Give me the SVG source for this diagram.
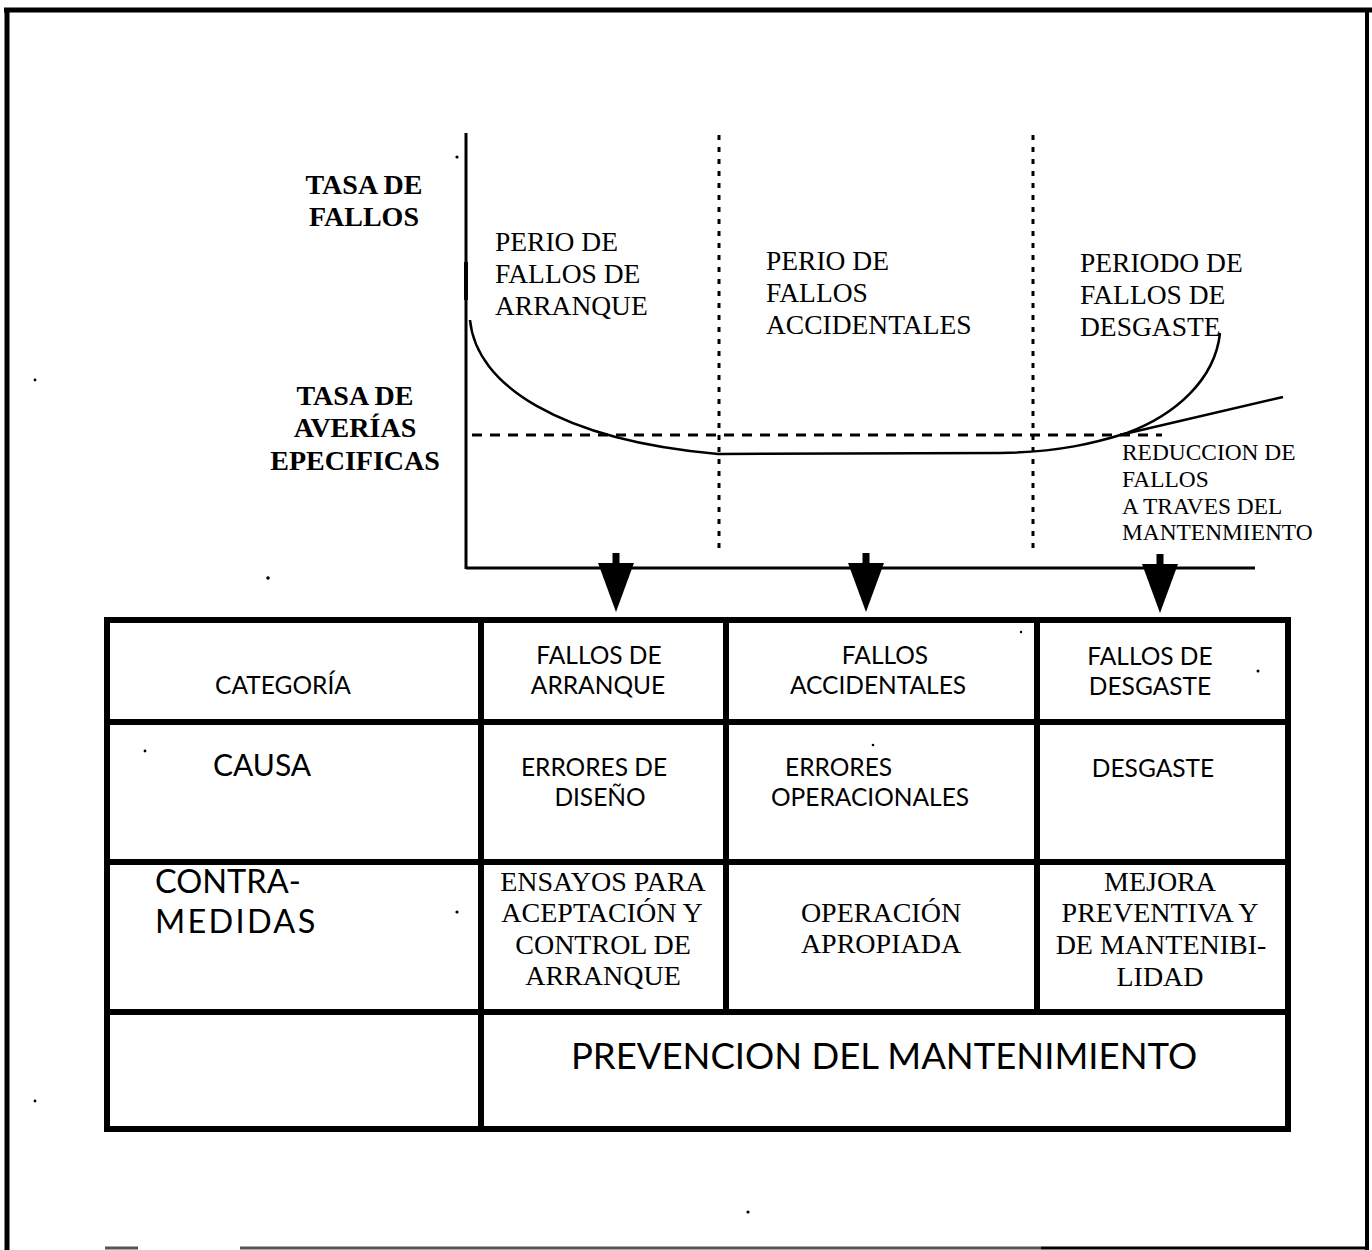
<svg xmlns="http://www.w3.org/2000/svg" width="1372" height="1250" viewBox="0 0 1372 1250">
  <style>
    .serif { font-family: "Liberation Serif", "Times New Roman", serif; fill: #000; }
    .bold { font-weight: bold; }
    .sans { font-family: Lato, "Open Sans", sans-serif; fill: #000; }
    .cell { font-size: 24.5px; }
    .axis { stroke: #000; stroke-width: 3; fill: none; }
    .curve { stroke: #000; stroke-width: 2.5; fill: none; }
    .dotted { stroke: #000; stroke-width: 3; stroke-dasharray: 5 7; fill: none; }
    .dashed { stroke: #000; stroke-width: 3; stroke-dasharray: 10 8; fill: none; }
    .grid { stroke: #000; stroke-width: 6; fill: none; stroke-linecap: square; }
    .speck { fill: #000; }
  </style>
  <defs>
    <!-- downward block arrow: stem plus triangular head, tip at origin -->
    <g id="down-arrow">
      <rect x="-3.5" y="-59" width="7" height="12"/>
      <polygon points="-18,-49 18,-49 0,0"/>
    </g>
  </defs>

  <rect width="1372" height="1250" fill="#fff"/>

  <!-- page frame -->
  <g id="frame">
    <line x1="4" y1="10" x2="1372" y2="10" stroke="#000" stroke-width="5"/>
    <line x1="7" y1="8" x2="7" y2="1250" stroke="#000" stroke-width="5"/>
    <line x1="1367" y1="10" x2="1367" y2="1250" stroke="#000" stroke-width="4"/>
    <line x1="105" y1="1248" x2="138" y2="1248" stroke="#555" stroke-width="3"/>
    <line x1="240" y1="1248" x2="1041" y2="1248" stroke="#555" stroke-width="3"/>
    <line x1="1041" y1="1248" x2="1366" y2="1248" stroke="#000" stroke-width="3"/>
  </g>

  <!-- bathtub chart -->
  <g id="chart">
    <line class="axis" x1="466" y1="133" x2="466" y2="569"/>
    <line x1="466" y1="262" x2="466" y2="300" stroke="#000" stroke-width="4"/>
    <line class="axis" x1="466" y1="568" x2="1255" y2="568"/>
    <line class="dotted" x1="719" y1="135" x2="719" y2="552"/>
    <line class="dotted" x1="1033" y1="135" x2="1033" y2="552"/>
    <line class="dashed" x1="472" y1="435" x2="1162" y2="435"/>
    <path class="curve" d="M470,320 C476,385 560,440 718,454 L1000,453 C1060,452 1095,443 1127,433 C1175,415 1215,380 1220,333"/>
    <line class="curve" x1="1120" y1="435" x2="1283" y2="397"/>
  </g>

  <!-- axis labels -->
  <g id="label-tasa-fallos">
    <text class="serif bold" font-size="28" text-anchor="middle" x="364" y="194">TASA DE</text>
    <text class="serif bold" font-size="28" text-anchor="middle" x="364" y="226">FALLOS</text>
  </g>
  <g id="label-tasa-averias">
    <text class="serif bold" font-size="28" text-anchor="middle" x="355" y="405">TASA DE</text>
    <text class="serif bold" font-size="28" text-anchor="middle" x="355" y="437">AVERÍAS</text>
    <text class="serif bold" font-size="28" text-anchor="middle" x="355" y="470">EPECIFICAS</text>
  </g>

  <!-- period labels -->
  <g id="period-arranque">
    <text class="serif" font-size="27.5" x="495" y="251">PERIO DE</text>
    <text class="serif" font-size="27.5" x="495" y="283">FALLOS DE</text>
    <text class="serif" font-size="27.5" x="495" y="315">ARRANQUE</text>
  </g>
  <g id="period-accidentales">
    <text class="serif" font-size="27.5" x="766" y="270">PERIO DE</text>
    <text class="serif" font-size="27.5" x="766" y="302">FALLOS</text>
    <text class="serif" font-size="27.5" x="766" y="334">ACCIDENTALES</text>
  </g>
  <g id="period-desgaste">
    <text class="serif" font-size="27.5" x="1080" y="272">PERIODO DE</text>
    <text class="serif" font-size="27.5" x="1080" y="304">FALLOS DE</text>
    <text class="serif" font-size="27.5" x="1080" y="336">DESGASTE</text>
  </g>
  <g id="label-reduccion">
    <text class="serif" font-size="23.4" x="1122" y="460">REDUCCION DE</text>
    <text class="serif" font-size="23.4" x="1122" y="487">FALLOS</text>
    <text class="serif" font-size="23.4" x="1122" y="514">A TRAVES DEL</text>
    <text class="serif" font-size="23.4" x="1122" y="540">MANTENMIENTO</text>
  </g>

  <!-- arrows from chart periods to table columns -->
  <g id="connectors">
    <use href="#down-arrow" x="616" y="612"/>
    <use href="#down-arrow" x="866" y="612"/>
    <use href="#down-arrow" x="1160" y="613"/>
  </g>

  <!-- table grid -->
  <g id="table">
    <rect class="grid" x="107" y="620" width="1181" height="509"/>
    <line class="grid" x1="107" y1="722" x2="1288" y2="722"/>
    <line class="grid" x1="107" y1="862" x2="1288" y2="862"/>
    <line class="grid" x1="107" y1="1012" x2="1288" y2="1012"/>
    <line class="grid" x1="481" y1="620" x2="481" y2="1129"/>
    <line class="grid" x1="726" y1="620" x2="726" y2="1012"/>
    <line class="grid" x1="1037" y1="620" x2="1037" y2="1012"/>
  </g>

  <!-- row headers -->
  <g id="cell-categoria">
    <text class="sans cell" text-anchor="middle" x="283" y="694">CATEGORÍA</text>
  </g>
  <g id="cell-causa">
    <text class="sans" font-size="30" x="213" y="776">CAUSA</text>
  </g>
  <g id="cell-contramedidas">
    <text class="sans" font-size="32.5" x="155" y="893">CONTRA-</text>
    <text class="sans" font-size="32.5" letter-spacing="2.3" x="155" y="933">MEDIDAS</text>
  </g>

  <!-- category row -->
  <g id="cell-fallos-arranque">
    <text class="sans cell" text-anchor="middle" x="599" y="664">FALLOS DE</text>
    <text class="sans cell" text-anchor="middle" x="598" y="694">ARRANQUE</text>
  </g>
  <g id="cell-fallos-accidentales">
    <text class="sans cell" text-anchor="middle" x="885" y="664">FALLOS</text>
    <text class="sans cell" text-anchor="middle" x="878" y="694">ACCIDENTALES</text>
  </g>
  <g id="cell-fallos-desgaste">
    <text class="sans cell" text-anchor="middle" x="1150" y="665">FALLOS DE</text>
    <text class="sans cell" text-anchor="middle" x="1150" y="695">DESGASTE</text>
  </g>

  <!-- cause row -->
  <g id="cell-errores-diseno">
    <text class="sans cell" text-anchor="middle" x="594" y="776">ERRORES DE</text>
    <text class="sans cell" text-anchor="middle" x="600" y="806">DISEÑO</text>
  </g>
  <g id="cell-errores-operacionales">
    <text class="sans cell" x="785" y="776">ERRORES</text>
    <text class="sans cell" x="771" y="806">OPERACIONALES</text>
  </g>
  <g id="cell-desgaste">
    <text class="sans cell" text-anchor="middle" x="1153" y="777">DESGASTE</text>
  </g>

  <!-- countermeasure row -->
  <g id="cell-ensayos">
    <text class="serif" font-size="28" text-anchor="middle" x="603" y="891">ENSAYOS PARA</text>
    <text class="serif" font-size="28" text-anchor="middle" x="602" y="922">ACEPTACIÓN Y</text>
    <text class="serif" font-size="28" text-anchor="middle" x="603" y="954">CONTROL DE</text>
    <text class="serif" font-size="28" text-anchor="middle" x="603" y="985">ARRANQUE</text>
  </g>
  <g id="cell-operacion">
    <text class="serif" font-size="28" text-anchor="middle" x="881" y="922">OPERACIÓN</text>
    <text class="serif" font-size="28" text-anchor="middle" x="881" y="953">APROPIADA</text>
  </g>
  <g id="cell-mejora">
    <text class="serif" font-size="28" text-anchor="middle" x="1160" y="891">MEJORA</text>
    <text class="serif" font-size="28" text-anchor="middle" x="1160" y="922">PREVENTIVA Y</text>
    <text class="serif" font-size="28" text-anchor="middle" x="1161" y="954">DE MANTENIBI-</text>
    <text class="serif" font-size="28" text-anchor="middle" x="1160" y="986">LIDAD</text>
  </g>

  <!-- bottom row -->
  <g id="cell-prevencion">
    <text class="sans" font-size="36.5" text-anchor="middle" x="884" y="1069">PREVENCION DEL MANTENIMIENTO</text>
  </g>

  <!-- stray print specks -->
  <g id="specks">
    <circle class="speck" cx="457" cy="157" r="1.6"/>
    <circle class="speck" cx="35" cy="380" r="1.4"/>
    <circle class="speck" cx="268" cy="578" r="1.8"/>
    <circle class="speck" cx="35" cy="1101" r="1.4"/>
    <circle class="speck" cx="748" cy="1212" r="1.6"/>
    <circle class="speck" cx="457" cy="912" r="1.6"/>
    <circle class="speck" cx="145" cy="751" r="1.4"/>
    <circle class="speck" cx="873" cy="745" r="1.3"/>
    <circle class="speck" cx="1258" cy="671" r="1.5"/>
    <circle class="speck" cx="1021" cy="632" r="1.2"/>
  </g>
</svg>
